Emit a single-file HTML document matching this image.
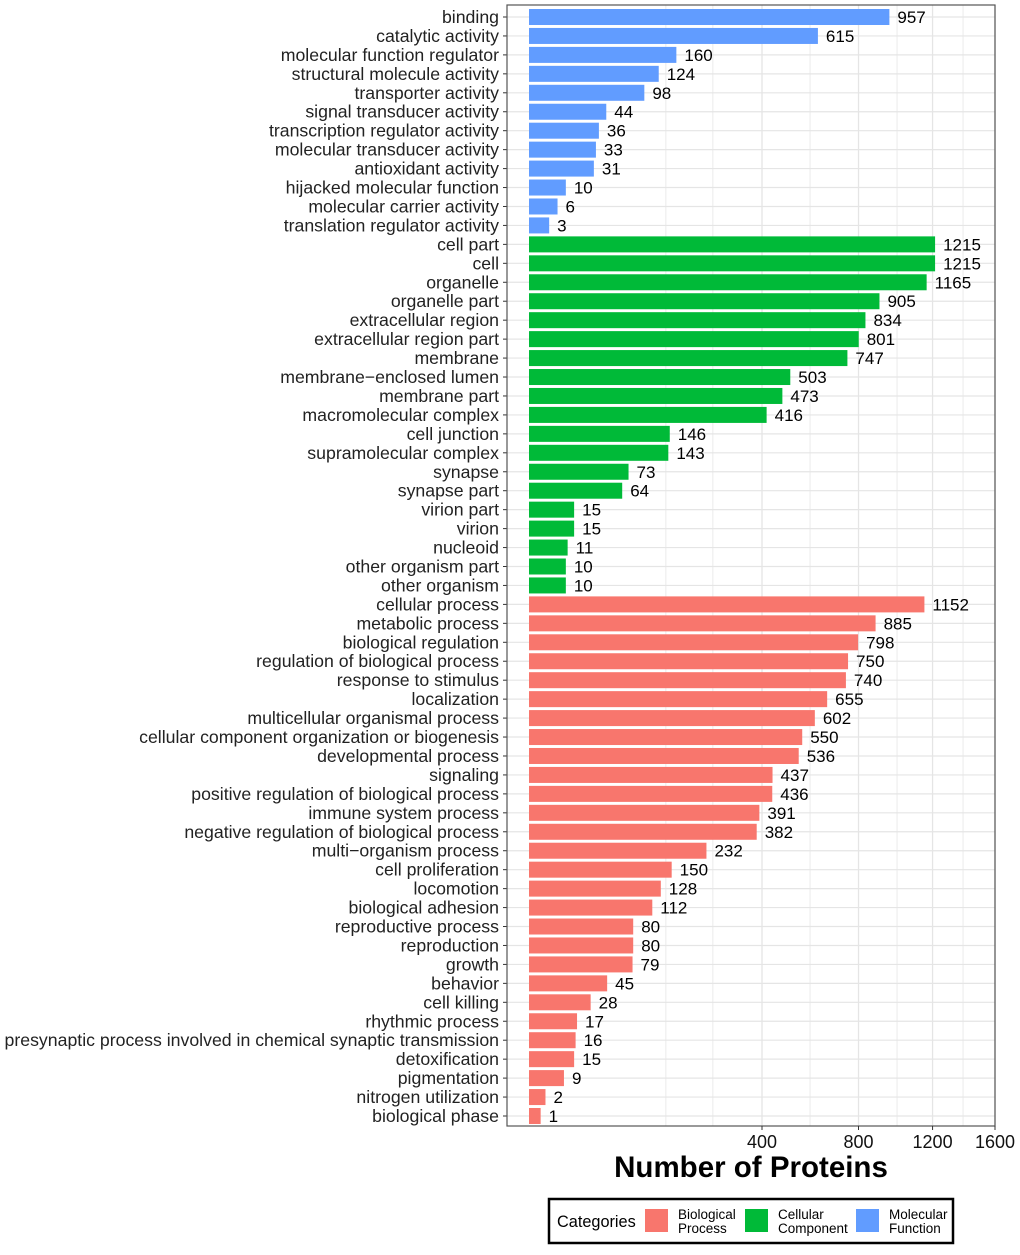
<!DOCTYPE html>
<html><head><meta charset="utf-8"><style>
body{margin:0;background:#fff;}
svg text{font-family:"Liberation Sans",Arial,sans-serif;}
</style></head><body>
<svg id="chart" width="1020" height="1250" xmlns="http://www.w3.org/2000/svg"></svg>
<script>
const categories=["binding","catalytic activity","molecular function regulator","structural molecule activity","transporter activity","signal transducer activity","transcription regulator activity","molecular transducer activity","antioxidant activity","hijacked molecular function","molecular carrier activity","translation regulator activity",
"cell part","cell","organelle","organelle part","extracellular region","extracellular region part","membrane","membrane\u2212enclosed lumen","membrane part","macromolecular complex","cell junction","supramolecular complex","synapse","synapse part","virion part","virion","nucleoid","other organism part","other organism",
"cellular process","metabolic process","biological regulation","regulation of biological process","response to stimulus","localization","multicellular organismal process","cellular component organization or biogenesis","developmental process","signaling","positive regulation of biological process","immune system process","negative regulation of biological process","multi\u2212organism process","cell proliferation","locomotion","biological adhesion","reproductive process","reproduction","growth","behavior","cell killing","rhythmic process","presynaptic process involved in chemical synaptic transmission","detoxification","pigmentation","nitrogen utilization","biological phase"];
const values=[957,615,160,124,98,44,36,33,31,10,6,3,
1215,1215,1165,905,834,801,747,503,473,416,146,143,73,64,15,15,11,10,10,
1152,885,798,750,740,655,602,550,536,437,436,391,382,232,150,128,112,80,80,79,45,28,17,16,15,9,2,1];
const groups=["MF","MF","MF","MF","MF","MF","MF","MF","MF","MF","MF","MF",
"CC","CC","CC","CC","CC","CC","CC","CC","CC","CC","CC","CC","CC","CC","CC","CC","CC","CC","CC",
"BP","BP","BP","BP","BP","BP","BP","BP","BP","BP","BP","BP","BP","BP","BP","BP","BP","BP","BP","BP","BP","BP","BP","BP","BP","BP","BP","BP"];
const xTicks=[400,800,1200,1600];
const minorGrid=[138,249,582,998,1388];
const colors={BP:"#F8766D",CC:"#00BA38",MF:"#619CFF"};
const NS="http://www.w3.org/2000/svg";
const svg=document.getElementById('chart');
const X0=529,K=11.65,PL=507,PR=995,PT=5,PB=1126,Y0=17,DY=(1116-17)/58,BH=16;
const xs=v=>X0+K*Math.sqrt(v);
const ys=i=>Y0+i*DY;
function mk(t,a,txt){const e=document.createElementNS(NS,t);for(const k in a)e.setAttribute(k,a[k]);if(txt!==undefined)e.textContent=txt;svg.appendChild(e);return e;}
let e=mk('rect',{x:PL,y:PT,width:PR-PL,height:PB-PT,fill:'#fff'});

minorGrid.forEach(v=>{const l=mk('line',{x1:xs(v),x2:xs(v),y1:PT,y2:PB,stroke:'#ebebeb','stroke-width':1});});
xTicks.forEach(v=>{const l=mk('line',{x1:xs(v),x2:xs(v),y1:PT,y2:PB,stroke:'#e5e5e5','stroke-width':1.3});});
categories.forEach((c,i)=>{const l=mk('line',{x1:PL,x2:PR,y1:ys(i),y2:ys(i),stroke:'#e5e5e5','stroke-width':1.2});});
categories.forEach((c,i)=>{
 const y=ys(i);
 const b=mk('rect',{x:X0,y:y-BH/2,width:xs(values[i])-X0,height:BH,fill:colors[groups[i]]});
 
 const t=mk('text',{x:xs(values[i])+8,y:y+6,'font-size':17,fill:'#000'},values[i]);
 
 const lb=mk('text',{x:PL-8,y:y+6,'font-size':17.7,fill:'#222','text-anchor':'end'},c);
 
 const tk=mk('line',{x1:PL-4,x2:PL,y1:y,y2:y,stroke:'#333'});
});
e=mk('rect',{x:PL,y:PT,width:PR-PL,height:PB-PT,fill:'none',stroke:'#555','stroke-width':1.2});

xTicks.forEach(v=>{
 const tk=mk('line',{x1:xs(v),x2:xs(v),y1:PB,y2:PB+4,stroke:'#333'});
 const t=mk('text',{x:xs(v),y:PB+22,'font-size':18,'text-anchor':'middle',fill:'#111'},v);
 
});
e=mk('text',{x:751,y:1177,'font-size':29.5,'font-weight':'bold','text-anchor':'middle'},'Number of Proteins');

e=mk('rect',{x:549,y:1199,width:404,height:44,fill:'#fff',stroke:'#000','stroke-width':2.5});

e=mk('text',{x:557,y:1227,'font-size':16.3},'Categories');

[["BP",645,"Biological","Process"],["CC",745,"Cellular","Component"],["MF",856,"Molecular","Function"]].forEach(d=>{
 const r=mk('rect',{x:d[1],y:1209,width:23,height:23,fill:colors[d[0]]});
 const t1=mk('text',{x:d[1]+33,y:1219,'font-size':13.5},d[2]);
 const t2=mk('text',{x:d[1]+33,y:1233,'font-size':13.5},d[3]);
});
</script>
</body></html>
